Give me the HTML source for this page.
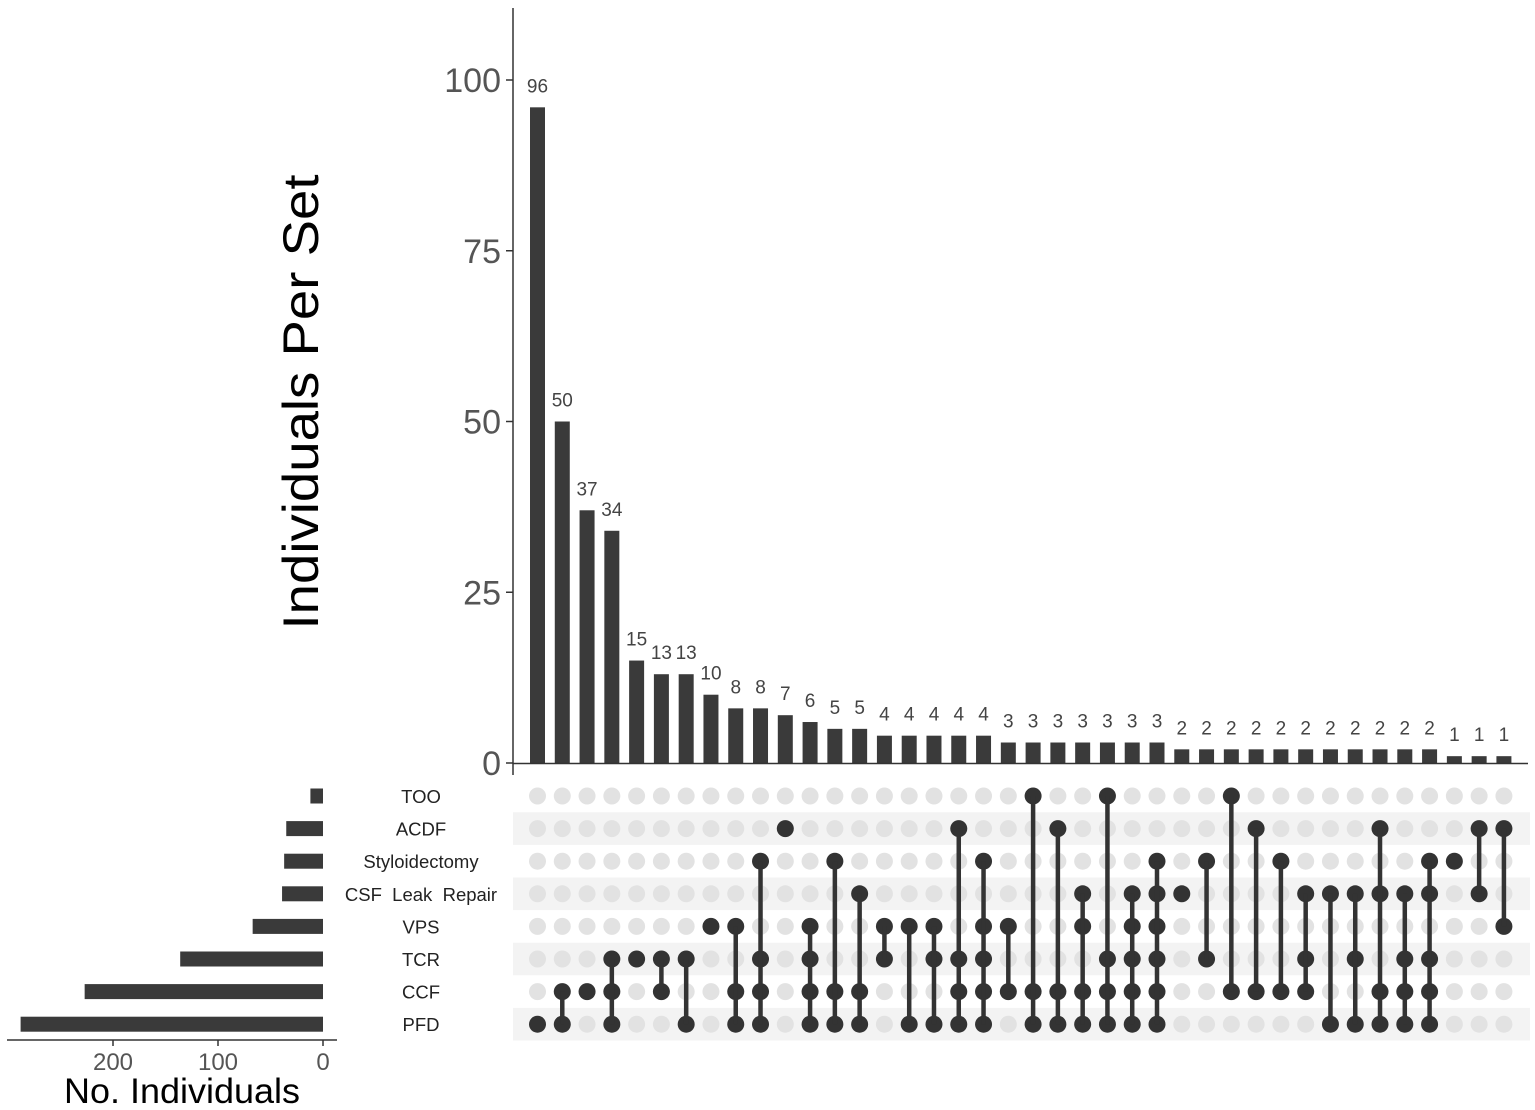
<!DOCTYPE html>
<html><head><meta charset="utf-8"><style>
html,body{margin:0;padding:0;background:#fff;}
svg{display:block;font-family:"Liberation Sans",Arial,sans-serif;}
</style></head><body>
<svg id="chart" width="1535" height="1110" viewBox="0 0 1535 1110">
<g id="stripes"></g><g id="bars"></g><g id="matrix"></g><g id="sets"></g><g id="axes"></g>
</svg>
<script>
const intersectionSizes=[96,50,37,34,15,13,13,10,8,8,7,6,5,5,4,4,4,4,4,3,3,3,3,3,3,3,2,2,2,2,2,2,2,2,2,2,2,1,1,1];
const setNames=["TOO","ACDF","Styloidectomy","CSF  Leak  Repair","VPS","TCR","CCF","PFD"];
const setSizes=[12,35,37,39,67,136,227,288];
const memberships=[[7],[6,7],[6],[5,6,7],[5],[5,6],[5,7],[4],[4,6,7],[2,5,6,7],[1],[4,5,6,7],[2,6,7],[3,6,7],[4,5],[4,7],[4,5,7],[1,5,6,7],[2,4,5,6,7],[4,6],[0,6,7],[1,6,7],[3,4,6,7],[0,5,6,7],[3,4,5,6,7],[2,3,4,5,6,7],[3],[2,5],[0,6],[1,6],[2,6],[3,5,6],[3,7],[3,5,7],[1,3,6,7],[3,5,6,7],[2,3,5,6,7],[2],[1,3],[1,4]];
const yTicks=[0,25,50,75,100];
const xTicksSet=[0,100,200];

const NS="http://www.w3.org/2000/svg";
function mk(tag,attrs,parent,txt){const e=document.createElementNS(NS,tag);for(const k in attrs)e.setAttribute(k,attrs[k]);if(txt!==undefined)e.textContent=txt;parent.appendChild(e);return e;}
const colX=i=>537.5+i*24.78;
const yTop=v=>763-v*6.83;
const rowY=r=>796+r*32.6;
const setX=v=>323-v*1.05;
const G=id=>document.getElementById(id);

for(let r=1;r<8;r+=2){
  const s=mk('rect',{x:513,y:rowY(r)-16.3,width:1017,height:32.6,fill:'#f3f3f3'},G('stripes'));
  
  
}
intersectionSizes.forEach((v,i)=>{
  const b=mk('rect',{x:colX(i)-7.5,y:yTop(v),width:15,height:763-yTop(v),fill:'#3a3a3a'},G('bars'));
  
  
  const t=mk('text',{x:colX(i),y:yTop(v)-15,'text-anchor':'middle','font-size':19,fill:'#444'},G('bars'),String(v));
  
  
});
memberships.forEach((m,i)=>{
  const x=colX(i);
  for(let r=0;r<8;r++){
    const c=mk('circle',{cx:x,cy:rowY(r),r:8.5,fill:m.includes(r)?'#333':'#e2e2e2'},G('matrix'));
    
    
  }
  if(m.length>1){
    const ln=mk('line',{x1:x,x2:x,y1:rowY(Math.min(...m)),y2:rowY(Math.max(...m)),stroke:'#333','stroke-width':4.5},G('matrix'));
    
    
  }
});
setNames.forEach((n,r)=>{
  const b=mk('rect',{x:setX(setSizes[r]),y:rowY(r)-7.5,width:323-setX(setSizes[r]),height:15,fill:'#3a3a3a'},G('sets'));
  
  
  const t=mk('text',{x:421,y:rowY(r)+7,'text-anchor':'middle','font-size':18.5,fill:'#222'},G('sets'),n);
  t.style.whiteSpace='pre';
  
  
});
const ax=G('axes');
let a=mk('line',{x1:513,x2:513,y1:8,y2:775,stroke:'#333','stroke-width':1.5},ax);


a=mk('line',{x1:513,x2:1528,y1:763.5,y2:763.5,stroke:'#333','stroke-width':1.5},ax);


yTicks.forEach(v=>{
  const tk=mk('line',{x1:506,x2:513,y1:yTop(v),y2:yTop(v),stroke:'#333','stroke-width':1.5},ax);
  
  
  const t=mk('text',{x:501,y:yTop(v)+12,'text-anchor':'end','font-size':34,fill:'#555'},ax,String(v));
  
  
});
let tt=mk('text',{transform:'translate(318,402) rotate(-90)','text-anchor':'middle','font-size':50,textLength:455,lengthAdjust:'spacingAndGlyphs',fill:'#000'},ax,'Individuals Per Set');


a=mk('line',{x1:7,x2:337,y1:1040,y2:1040,stroke:'#333','stroke-width':1.5},ax);


xTicksSet.forEach(v=>{
  const tk=mk('line',{x1:setX(v),x2:setX(v),y1:1040,y2:1046,stroke:'#333','stroke-width':1.5},ax);
  
  
  const t=mk('text',{x:setX(v),y:1070,'text-anchor':'middle','font-size':24,fill:'#555'},ax,String(v));
  
  
});
tt=mk('text',{x:182,y:1103,'text-anchor':'middle','font-size':35,textLength:236,lengthAdjust:'spacingAndGlyphs',fill:'#000'},ax,'No. Individuals');


</script>
</body></html>
